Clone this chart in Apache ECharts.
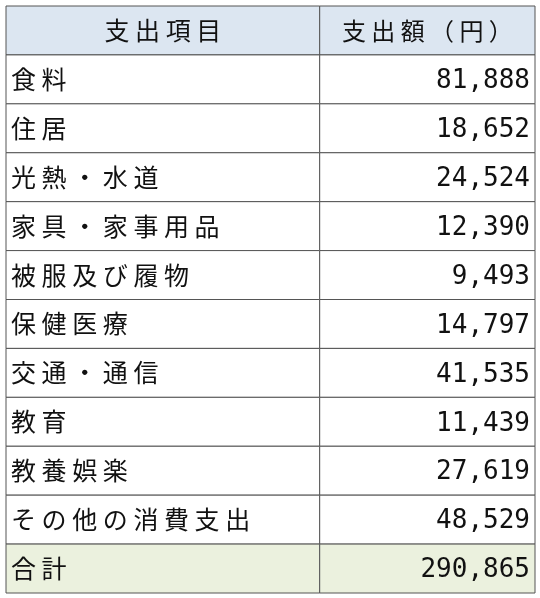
<!DOCTYPE html>
<html><head><meta charset="utf-8">
<script src="https://cdn.jsdelivr.net/npm/echarts@6/dist/echarts.min.js"></script>
<style>html,body{margin:0;padding:0;background:#fff}#c{width:540px;height:598px}</style>
</head><body><div id="c"></div>
<script>
const headers = ["支出項目", "支出額（円）"];
const categories = ["食料","住居","光熱・水道","家具・家事用品","被服及び履物","保健医療","交通・通信","教育","教養娯楽","その他の消費支出","合計"];
const values = ["81,888","18,652","24,524","12,390","9,493","14,797","41,535","11,439","27,619","48,529","290,865"];

const rows = [headers[0]].concat(categories);
const data = rows.map((r, i) => [i, r, i === 0 ? headers[1] : values[i - 1]]);
const split = 0.593;
const chart = echarts.init(document.getElementById('c'));
chart.setOption({
  animation: false,
  grid: {left: 6, right: 5, top: 6, bottom: 5},
  xAxis: {type: 'value', min: 0, max: 1, show: false},
  yAxis: {type: 'category', data: rows.map((r, i) => i), inverse: true, show: false},
  series: [{
    type: 'custom',
    data: data,
    renderItem: function (params, api) {
      const i = api.value(0);
      const p0 = api.coord([0, i]);
      const bw = api.size([0, 1])[1];
      const x0 = api.coord([0, 0])[0], xm = api.coord([split, 0])[0], x1 = api.coord([1, 0])[0];
      const top = p0[1] - bw / 2;
      let fill = '#ffffff';
      if (i === 0) fill = '#dce6f1';
      if (i === rows.length - 1) fill = '#ebf1de';
      const st = {stroke: '#555', lineWidth: 1};
      const font = '"Noto Sans CJK JP", sans-serif';
      const sp = s => s.split('').join(' ');
      const children = [
        {type: 'rect', shape: {x: x0, y: top, width: xm - x0, height: bw}, style: Object.assign({fill: fill}, st)},
        {type: 'rect', shape: {x: xm, y: top, width: x1 - xm, height: bw}, style: Object.assign({fill: fill}, st)}
      ];
      if (i === 0) {
        children.push({type: 'text', style: {text: sp(data[i][1]), x: (x0 + xm) / 2, y: p0[1], align: 'center', verticalAlign: 'middle', fontSize: 25, fontFamily: font, fill: '#111'}});
        children.push({type: 'text', style: {text: sp(data[i][2]), x: (xm + x1) / 2, y: p0[1], align: 'center', verticalAlign: 'middle', fontSize: 24, fontFamily: font, fill: '#111'}});
      } else {
        children.push({type: 'text', style: {text: sp(data[i][1]), x: x0 + 5, y: p0[1], align: 'left', verticalAlign: 'middle', fontSize: 25, fontFamily: font, fill: '#111'}});
        children.push({type: 'text', style: {text: data[i][2], x: x1 - 5, y: p0[1] + 2, align: 'right', verticalAlign: 'middle', fontSize: 26, fontFamily: '"DejaVu Sans Mono", monospace', fill: '#111'}});
      }
      return {type: 'group', children: children};
    }
  }]
});
</script></body></html>
